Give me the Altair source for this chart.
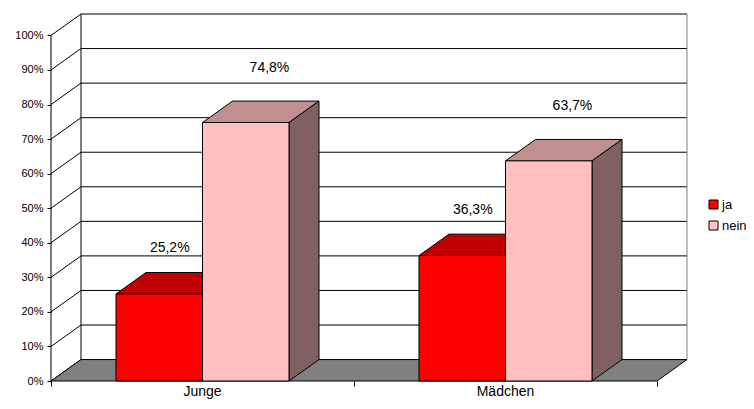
import altair as alt
import pandas as pd

# ---------------- data ----------------
categories = ["Junge", "Mädchen"]
series_names = ["ja", "nein"]
ja_values = [25.2, 36.3]
nein_values = [74.8, 63.7]
ja_labels = ["25,2%", "36,3%"]
nein_labels = ["74,8%", "63,7%"]
y_tick_values = [0, 10, 20, 30, 40, 50, 60, 70, 80, 90, 100]

# ---------------- styles / layout ----------------
front_colors = ["#FF0000", "#FFC0C0"]
top_colors = {"ja": "#C00000", "nein": "#C09090"}
side_colors = {"ja": "#900000", "nein": "#806060"}
FONT = "Liberation Sans, Arial, Helvetica, sans-serif"

DX = 30 / 303      # 3D depth along x (category units)
DY = 6.2           # 3D depth along y (percent units)
BAR_W = 0.2855     # bar width (category units)
N = len(categories)
X_MAX = N + DX
Y_MAX = 100 + DY

series_values = {"ja": (ja_values, ja_labels), "nein": (nein_values, nein_labels)}

bar_rows, top_rows, side_rows = [], [], []
for i, cat in enumerate(categories):
    for j, s in enumerate(series_names):
        vals, labs = series_values[s]
        v = vals[i]
        x0 = i + 0.5 - BAR_W + j * BAR_W
        x1 = x0 + BAR_W
        bid = f"{cat}-{s}"
        bar_rows.append(dict(bar=bid, series=s, value=v, label=labs[i],
                             x0=x0, x1=x1, xm=(x0 + x1) / 2))
        top_rows.append(dict(bar=bid, series=s, yv=v, xa=x0, xb=x1))
        top_rows.append(dict(bar=bid, series=s, yv=v + DY, xa=x0 + DX, xb=x1 + DX))
        side_rows.append(dict(bar=bid, series=s, xv=x1, ya=0, yb=v))
        side_rows.append(dict(bar=bid, series=s, xv=x1 + DX, ya=DY, yb=v + DY))

bars = pd.DataFrame(bar_rows)
tops = pd.DataFrame(top_rows)
sides = pd.DataFrame(side_rows)

grid = pd.DataFrame({"k": y_tick_values})
grid["yb"] = grid["k"] + DY
grid["x0"] = 0.0
grid["xb0"] = DX
grid["xb1"] = X_MAX

floor = pd.DataFrame({"yv": [0, DY], "xa": [0, DX], "xb": [N, N + DX]})
wall = pd.DataFrame({"x": [DX], "x2": [X_MAX], "y": [DY], "y2": [Y_MAX]})
axis_line = pd.DataFrame({"x": [0], "y": [0], "y2": [100]})
cats = pd.DataFrame({"cat": categories, "xc": [i + 0.5 for i in range(N)], "y0": [0] * N})

# ---------------- scales / axes ----------------
xs = alt.Scale(domain=[0, X_MAX], nice=False, zero=False, padding=0)
ys = alt.Scale(domain=[0, Y_MAX], nice=False, zero=False, padding=0)
x_axis = alt.Axis(values=[0, 1, 2], labels=False, domain=False, grid=False,
                  tickSize=5, tickColor="black", title=None)
y_axis = alt.Axis(values=y_tick_values, labelExpr="datum.value + '%'", domain=False,
                  grid=False, tickSize=4, tickColor="black", labelPadding=4,
                  labelFontSize=11, labelColor="black", labelFont=FONT, title=None)


def X(f):
    return alt.X(f, type="quantitative", scale=xs, axis=x_axis)


def Y(f):
    return alt.Y(f, type="quantitative", scale=ys, axis=y_axis)


# back wall
back = alt.Chart(wall).mark_rect(fill="white", strokeWidth=0).encode(
    x=X("x"), x2="x2", y=Y("y"), y2="y2")
gridlines = alt.Chart(grid).mark_rule(color="black", strokeWidth=1).encode(
    x=X("xb0"), x2="xb1", y=Y("yb"))
back_left = alt.Chart(wall).mark_rule(color="black", strokeWidth=1).encode(
    x=X("x"), y=Y("y"), y2="y2")
back_right = alt.Chart(wall).mark_rule(color="#808080", strokeWidth=1).encode(
    x=X("x2"), y=Y("y"), y2="y2")
# left side wall diagonals
diag = alt.Chart(grid).mark_rule(color="black", strokeWidth=1).encode(
    x=X("x0"), x2="xb0", y=Y("k"), y2="yb")
front_axis = alt.Chart(axis_line).mark_rule(color="black", strokeWidth=1).encode(
    x=X("x"), y=Y("y"), y2="y2")

# floor
floor_l = alt.Chart(floor).mark_area(orient="horizontal", fill="#808080",
                                     stroke="black", strokeWidth=1).encode(
    y=Y("yv"), x=X("xa"), x2="xb")

# bar tops
top_l = alt.Chart(tops).mark_area(orient="horizontal", stroke="black", strokeWidth=1).encode(
    y=Y("yv"), x=X("xa"), x2="xb", detail="bar:N",
    fill=alt.condition(alt.datum.series == "ja", alt.value(top_colors["ja"]),
                       alt.value(top_colors["nein"])))
# bar sides
side_l = alt.Chart(sides).mark_area(orient="vertical", stroke="black", strokeWidth=1).encode(
    x=X("xv"), y=Y("ya"), y2="yb", detail="bar:N",
    fill=alt.condition(alt.datum.series == "ja", alt.value(side_colors["ja"]),
                       alt.value(side_colors["nein"])))
# bar fronts
front_l = alt.Chart(bars).mark_rect(stroke="black", strokeWidth=1).encode(
    x=X("x0"), x2="x1", y=Y("value"), y2=alt.datum(0),
    fill=alt.Fill("series:N", scale=alt.Scale(domain=series_names, range=front_colors),
                  legend=alt.Legend(orient="none", legendX=656, legendY=184, title=None,
                                    symbolType="square", symbolSize=81,
                                    symbolStrokeColor="black", symbolStrokeWidth=1,
                                    labelFontSize=13, labelFont=FONT, labelColor="black",
                                    labelOffset=2, rowPadding=7, padding=0)))

lab_ja = alt.Chart(bars).transform_filter(alt.datum.series == "ja").mark_text(
    font=FONT, fontSize=14, color="black", baseline="middle", dx=10.5, dy=-46).encode(
    x=X("xm"), y=Y("value"), text="label:N")
lab_nein = alt.Chart(bars).transform_filter(alt.datum.series == "nein").mark_text(
    font=FONT, fontSize=14, color="black", baseline="middle", dx=23.7, dy=-55).encode(
    x=X("xm"), y=Y("value"), text="label:N")

cat_l = alt.Chart(cats).mark_text(font=FONT, fontSize=14, color="black",
                                  baseline="middle", dy=11).encode(
    x=X("xc"), y=Y("y0"), text="cat:N")

chart = alt.layer(
    back, gridlines, back_left, back_right, diag, front_axis, floor_l,
    top_l, side_l, front_l, lab_ja, lab_nein, cat_l
).properties(
    width=636, height=367,
    autosize=alt.AutoSizeParams(type="none"),
    padding={"left": 43, "top": 6, "right": 59, "bottom": 20},
    background="white",
).configure_view(stroke=None)

chart.save("out.html", embed_options={"renderer": "svg", "actions": False})
